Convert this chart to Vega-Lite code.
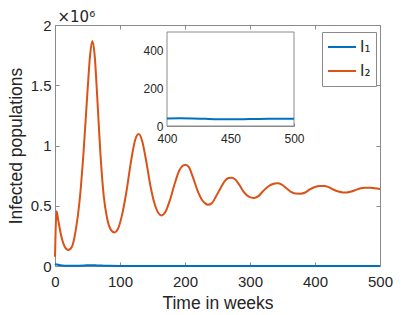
{
  "$schema": "https://vega.github.io/schema/vega-lite/v6.json",
  "width": 325,
  "height": 241,
  "autosize": {"type": "none"},
  "padding": {"left": 55, "top": 25, "right": 40, "bottom": 49},
  "background": "white",
  "config": {
    "view": {"stroke": null},
    "font": "Liberation Sans",
    "axis": {
      "grid": false,
      "domainColor": "#8a8a8a",
      "tickColor": "#8a8a8a",
      "labelColor": "#262626",
      "titleColor": "#262626",
      "labelFont": "Liberation Sans",
      "titleFont": "Liberation Sans",
      "titleFontWeight": "normal",
      "labelFlush": false,
      "labelOverlap": false
    }
  },
  "datasets": {
    "main": [
      {"t": 0, "v": 77000, "s": "I₂"},
      {"t": 1, "v": 300000, "s": "I₂"},
      {"t": 2.5, "v": 455000, "s": "I₂"},
      {"t": 5, "v": 380000, "s": "I₂"},
      {"t": 10, "v": 240000, "s": "I₂"},
      {"t": 15, "v": 160000, "s": "I₂"},
      {"t": 20.5, "v": 133000, "s": "I₂"},
      {"t": 26, "v": 160000, "s": "I₂"},
      {"t": 32, "v": 300000, "s": "I₂"},
      {"t": 38, "v": 550000, "s": "I₂"},
      {"t": 44, "v": 950000, "s": "I₂"},
      {"t": 50, "v": 1450000, "s": "I₂"},
      {"t": 54, "v": 1750000, "s": "I₂"},
      {"t": 57.4, "v": 1867000, "s": "I₂"},
      {"t": 61, "v": 1750000, "s": "I₂"},
      {"t": 65, "v": 1400000, "s": "I₂"},
      {"t": 70, "v": 920000, "s": "I₂"},
      {"t": 75, "v": 580000, "s": "I₂"},
      {"t": 80, "v": 400000, "s": "I₂"},
      {"t": 86, "v": 300000, "s": "I₂"},
      {"t": 91.3, "v": 279000, "s": "I₂"},
      {"t": 97, "v": 310000, "s": "I₂"},
      {"t": 103, "v": 420000, "s": "I₂"},
      {"t": 110, "v": 620000, "s": "I₂"},
      {"t": 117, "v": 870000, "s": "I₂"},
      {"t": 123, "v": 1040000, "s": "I₂"},
      {"t": 128.7, "v": 1095000, "s": "I₂"},
      {"t": 134, "v": 1040000, "s": "I₂"},
      {"t": 140, "v": 880000, "s": "I₂"},
      {"t": 147, "v": 660000, "s": "I₂"},
      {"t": 153, "v": 520000, "s": "I₂"},
      {"t": 159, "v": 440000, "s": "I₂"},
      {"t": 164, "v": 420000, "s": "I₂"},
      {"t": 170, "v": 450000, "s": "I₂"},
      {"t": 177, "v": 550000, "s": "I₂"},
      {"t": 184, "v": 680000, "s": "I₂"},
      {"t": 191, "v": 790000, "s": "I₂"},
      {"t": 196, "v": 830000, "s": "I₂"},
      {"t": 200.5, "v": 841000, "s": "I₂"},
      {"t": 206, "v": 820000, "s": "I₂"},
      {"t": 212, "v": 740000, "s": "I₂"},
      {"t": 219, "v": 630000, "s": "I₂"},
      {"t": 226, "v": 550000, "s": "I₂"},
      {"t": 231, "v": 520000, "s": "I₂"},
      {"t": 235.4, "v": 509000, "s": "I₂"},
      {"t": 241, "v": 520000, "s": "I₂"},
      {"t": 248, "v": 580000, "s": "I₂"},
      {"t": 255, "v": 650000, "s": "I₂"},
      {"t": 262, "v": 710000, "s": "I₂"},
      {"t": 267, "v": 730000, "s": "I₂"},
      {"t": 271.8, "v": 733000, "s": "I₂"},
      {"t": 277, "v": 720000, "s": "I₂"},
      {"t": 284, "v": 670000, "s": "I₂"},
      {"t": 291, "v": 610000, "s": "I₂"},
      {"t": 298, "v": 575000, "s": "I₂"},
      {"t": 306, "v": 564000, "s": "I₂"},
      {"t": 313, "v": 580000, "s": "I₂"},
      {"t": 320, "v": 620000, "s": "I₂"},
      {"t": 328, "v": 660000, "s": "I₂"},
      {"t": 335, "v": 680000, "s": "I₂"},
      {"t": 342, "v": 686000, "s": "I₂"},
      {"t": 349, "v": 675000, "s": "I₂"},
      {"t": 356, "v": 645000, "s": "I₂"},
      {"t": 363, "v": 615000, "s": "I₂"},
      {"t": 370, "v": 601000, "s": "I₂"},
      {"t": 377.4, "v": 600000, "s": "I₂"},
      {"t": 385, "v": 610000, "s": "I₂"},
      {"t": 392, "v": 635000, "s": "I₂"},
      {"t": 400, "v": 655000, "s": "I₂"},
      {"t": 407, "v": 663000, "s": "I₂"},
      {"t": 413.8, "v": 664000, "s": "I₂"},
      {"t": 421, "v": 655000, "s": "I₂"},
      {"t": 428, "v": 635000, "s": "I₂"},
      {"t": 436, "v": 618000, "s": "I₂"},
      {"t": 443, "v": 611000, "s": "I₂"},
      {"t": 449, "v": 611000, "s": "I₂"},
      {"t": 456, "v": 618000, "s": "I₂"},
      {"t": 463, "v": 632000, "s": "I₂"},
      {"t": 470, "v": 645000, "s": "I₂"},
      {"t": 477, "v": 650000, "s": "I₂"},
      {"t": 485, "v": 650000, "s": "I₂"},
      {"t": 492, "v": 645000, "s": "I₂"},
      {"t": 500, "v": 639000, "s": "I₂"},
      {"t": 0, "v": 18000, "s": "I₁"},
      {"t": 3, "v": 12000, "s": "I₁"},
      {"t": 8, "v": 6000, "s": "I₁"},
      {"t": 15, "v": 3000, "s": "I₁"},
      {"t": 30, "v": 2000, "s": "I₁"},
      {"t": 45, "v": 4000, "s": "I₁"},
      {"t": 55, "v": 7000, "s": "I₁"},
      {"t": 65, "v": 5000, "s": "I₁"},
      {"t": 80, "v": 1500, "s": "I₁"},
      {"t": 100, "v": 500, "s": "I₁"},
      {"t": 130, "v": 800, "s": "I₁"},
      {"t": 160, "v": 200, "s": "I₁"},
      {"t": 200, "v": 300, "s": "I₁"},
      {"t": 300, "v": 100, "s": "I₁"},
      {"t": 400, "v": 40, "s": "I₁"},
      {"t": 500, "v": 38, "s": "I₁"}
    ],
    "inset": [
      {"t": 400, "v": 40},
      {"t": 410, "v": 41},
      {"t": 420, "v": 40},
      {"t": 430, "v": 38},
      {"t": 440, "v": 36},
      {"t": 450, "v": 35.5},
      {"t": 460, "v": 36},
      {"t": 470, "v": 37.5},
      {"t": 480, "v": 38.5},
      {"t": 490, "v": 38.5},
      {"t": 500, "v": 38}
    ]
  },
  "resolve": {"scale": {"x": "independent", "y": "independent", "color": "independent"}},
  "layer": [
    {
      "data": {"name": "main"},
      "mark": {"type": "line", "strokeWidth": 2, "interpolate": "monotone"},
      "encoding": {
        "x": {"field": "t", "type": "quantitative", "scale": {"domain": [0, 500], "nice": false, "zero": false},
          "axis": {"orient": "bottom", "values": [0, 100, 200, 300, 400, 500], "title": "Time in weeks", "titleFontSize": 17.5, "labelFontSize": 15, "tickSize": -4, "labelPadding": 12, "titlePadding": 5}},
        "y": {"field": "v", "type": "quantitative", "scale": {"domain": [0, 2000000], "nice": false},
          "axis": {"orient": "left", "values": [0, 500000, 1000000, 1500000, 2000000], "labelExpr": "datum.value/1000000", "title": "Infected populations", "titleFontSize": 17.5, "labelFontSize": 15, "tickSize": -4, "labelPadding": 8, "titlePadding": 5}},
        "color": {"field": "s", "type": "nominal", "scale": {"domain": ["I₁", "I₂"], "range": ["#0072BD", "#D95319"]},
          "legend": {"orient": "none", "legendX": 267, "legendY": 7, "title": null, "strokeColor": "#8a8a8a", "fillColor": "white", "padding": 5, "symbolType": "stroke", "symbolSize": 784, "symbolStrokeWidth": 2, "labelFontSize": 15, "labelOffset": 3, "clipHeight": 20, "rowPadding": 4, "labelColor": "#262626", "labelFont": "DejaVu Sans"}}
      }
    },
    {
      "data": {"name": "main"},
      "mark": {"type": "line", "opacity": 0},
      "encoding": {
        "x": {"field": "t", "type": "quantitative", "scale": {"domain": [0, 500], "nice": false, "zero": false},
          "axis": {"orient": "top", "values": [0, 100, 200, 300, 400, 500], "labels": false, "tickSize": -4, "title": "×10⁶", "titleFontSize": 15, "titleAnchor": "start", "titleAlign": "left", "titleBaseline": "alphabetic", "titleX": 2, "titleY": -4, "titleFont": "DejaVu Sans"}},
        "y": {"field": "v", "type": "quantitative", "scale": {"domain": [0, 2000000], "nice": false},
          "axis": {"orient": "right", "values": [0, 500000, 1000000, 1500000, 2000000], "labels": false, "title": null, "tickSize": -4}}
      }
    },
    {
      "data": {"values": [{}]},
      "mark": {"type": "rect", "fill": "white", "stroke": "#8a8a8a", "strokeWidth": 1},
      "encoding": {
        "x": {"datum": 400, "type": "quantitative", "scale": {"domain": [400, 500], "range": [112, 239], "nice": false, "zero": false},
          "axis": {"orient": "bottom", "offset": -140, "values": [400, 450, 500], "title": null, "labelFontSize": 12, "tickSize": -3, "labelPadding": 10}},
        "x2": {"datum": 500},
        "y": {"datum": 0, "type": "quantitative", "scale": {"domain": [0, 500], "range": [101, 7], "nice": false, "zero": false},
          "axis": {"orient": "left", "offset": -112, "values": [0, 200, 400], "title": null, "labelFontSize": 12, "tickSize": -3, "labelPadding": 7}},
        "y2": {"datum": 500}
      }
    },
    {
      "data": {"name": "inset"},
      "mark": {"type": "line", "color": "#0072BD", "strokeWidth": 2, "interpolate": "monotone"},
      "encoding": {
        "x": {"field": "t", "type": "quantitative", "scale": {"domain": [400, 500], "range": [112, 239], "nice": false, "zero": false}, "axis": null},
        "y": {"field": "v", "type": "quantitative", "scale": {"domain": [0, 500], "range": [101, 7], "nice": false, "zero": false}, "axis": null}
      }
    }
  ]
}
